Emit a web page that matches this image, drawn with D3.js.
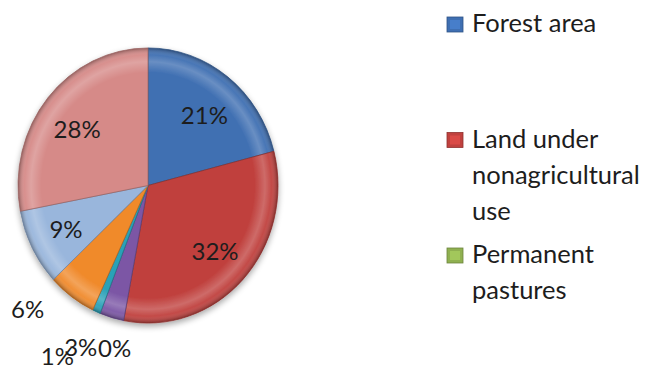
<!DOCTYPE html>
<html>
<head>
<meta charset="utf-8">
<script src="https://cdnjs.cloudflare.com/ajax/libs/d3/7.8.5/d3.min.js"></script>
<style>
  html, body { margin: 0; padding: 0; background: #fff; }
  svg { display: block; }
  text { font-family: Lato, "Open Sans", sans-serif; fill: #1d1d1d; }
</style>
</head>
<body>
<svg id="chart" width="648" height="367"></svg>
<script>
// Land use shares (percent of reporting area)
const categories = [
  "Forest area",
  "Land under nonagricultural use",
  "Permanent pastures",
  "Land under misc. tree crops",
  "Culturable waste land",
  "Current fallows",
  "Other fallows",
  "Net area sown"
];
const shares = [21, 32, 0, 3, 1, 6, 9, 28];
const sliceColors = ["#3f6fb2", "#c0413e", "#8fb050", "#7b56a5", "#2aa1b7", "#f08a2c", "#99b6dc", "#d68a88"];
// legend wraps long names into these lines
const legendLines = [["Forest area"], ["Land under", "nonagricultural", "use"], ["Permanent", "pastures"]];

const svg = d3.select("#chart");
const cx = 148, cy = 185.5, R = 130, yStretch = 1.058;

const data = categories.map((c, i) => ({ name: c, value: shares[i], color: sliceColors[i] }));
const pie = d3.pie().sort(null).value(d => d.value);
const arcs = pie(data);
const arc = d3.arc().innerRadius(0).outerRadius(R);

const defs = svg.append("defs");
// soft shadow under the disc
const shadow = defs.append("filter").attr("id", "shadow")
  .attr("x", "-20%").attr("y", "-20%").attr("width", "140%").attr("height", "140%");
shadow.append("feGaussianBlur").attr("in", "SourceAlpha").attr("stdDeviation", 3).attr("result", "b");
shadow.append("feOffset").attr("in", "b").attr("dy", 3).attr("result", "o");
shadow.append("feComponentTransfer").attr("in", "o").attr("result", "s")
  .append("feFuncA").attr("type", "linear").attr("slope", 0.35);
const merge = shadow.append("feMerge");
merge.append("feMergeNode").attr("in", "s");
merge.append("feMergeNode").attr("in", "SourceGraphic");

// rim bevel: light band just inside the edge, darker at the very edge
const bevel = defs.append("radialGradient").attr("id", "bevel")
  .attr("gradientUnits", "userSpaceOnUse").attr("cx", 0).attr("cy", 0).attr("r", R);
[[0, "#fff", 0], [0.82, "#fff", 0], [0.9, "#fff", 0.22], [0.95, "#fff", 0.05], [1, "#000", 0.32]]
  .forEach(([o, c, a]) => bevel.append("stop").attr("offset", o).attr("stop-color", c).attr("stop-opacity", a));

const g = svg.append("g")
  .attr("transform", `translate(${cx},${cy}) scale(1,${yStretch})`)
  .attr("filter", "url(#shadow)");

const slices = g.selectAll("g.slice").data(arcs.filter(a => a.value > 0)).join("g").attr("class", "slice");
slices.append("path").attr("d", arc).attr("fill", d => d.data.color);
slices.append("path").attr("d", arc).attr("fill", "url(#bevel)");
slices.append("path").attr("d", arc).attr("fill", "none")
  .attr("stroke", d => d3.color(d.data.color).darker(0.9)).attr("stroke-width", 0.9).attr("stroke-opacity", 0.8);

// value labels
const labelArc = d3.arc().innerRadius(92).outerRadius(92);
const labelCy = 188;
// small slices get their labels outside, nudged away from the rim
const outsideNudge = { 5: [-44, 13], 4: [-39, 45], 3: [-31, 30], 2: [-9, 28] };
const labels = svg.append("g");
arcs.forEach((a, i) => {
  let x, y;
  if (outsideNudge[i]) {
    const mid = (a.startAngle + a.endAngle) / 2;
    x = cx + R * Math.sin(mid) + outsideNudge[i][0];
    y = cy - R * yStretch * Math.cos(mid) + outsideNudge[i][1];
  } else {
    const [px, py] = labelArc.centroid(a);
    x = cx + px; y = labelCy + py;
  }
  labels.append("text")
    .attr("x", x).attr("y", y).attr("dy", "0.36em")
    .attr("text-anchor", "middle").attr("font-size", 24)
    .text(d3.format(".0f")(a.data.value) + "%");
});

// legend (only the entries that fit are shown)
const legend = svg.append("g");
legendLines.forEach((lines, i) => {
  const base = 32 + i * 115.5;
  const color = sliceColors[i];
  legend.append("rect").attr("x", 447).attr("y", base - 15).attr("width", 16).attr("height", 15)
    .attr("fill", color).attr("stroke", d3.color(color).darker(0.8)).attr("stroke-width", 0.8);
  legend.append("rect").attr("x", 450).attr("y", base - 12).attr("width", 10).attr("height", 9)
    .attr("fill", d3.color(color).brighter(0.35));
  const t = legend.append("text").attr("x", 472).attr("y", base).attr("font-size", 25.5);
  lines.forEach((l, j) => t.append("tspan").attr("x", 472).attr("y", base + j * 36).text(l));
});
</script>
</body>
</html>
